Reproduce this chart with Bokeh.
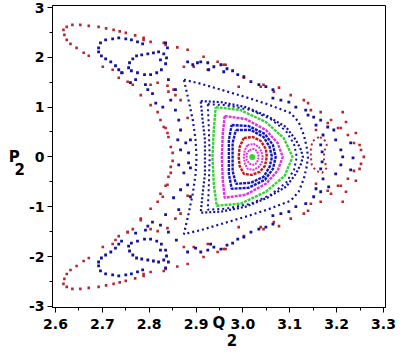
from bokeh.plotting import figure
from bokeh.models import FixedTicker, PrintfTickFormatter, Range1d
from bokeh.embed import file_html
from bokeh.resources import INLINE

# ---------------- data (Q2, P2) ----------------
center_q = [3.020]
center_p = [0.0]

mag1_q = [3.014, 3.023, 3.030, 3.034, 3.030, 3.023, 3.014, 3.008, 3.008, 3.014]
mag1_p = [0.14, 0.16, 0.12, 0.0, -0.12, -0.16, -0.14, -0.06, 0.06, 0.14]

mag2_q = [3.010, 3.023, 3.034, 3.040, 3.042, 3.040, 3.034, 3.023, 3.010, 3.004, 3.002, 3.004, 3.010]
mag2_p = [0.24, 0.26, 0.20, 0.10, 0.0, -0.12, -0.20, -0.26, -0.24, -0.14, 0.0, 0.14, 0.24]

redring_q = [3.002, 3.021, 3.038, 3.049, 3.051, 3.047, 3.036, 3.019, 3.002, 2.993, 2.991, 2.993, 3.002]
redring_p = [0.38, 0.40, 0.32, 0.16, 0.0, -0.18, -0.30, -0.36, -0.34, -0.18, 0.0, 0.20, 0.38]

blue1_q = [2.985, 3.017, 3.044, 3.057, 3.062, 3.057, 3.044, 3.017, 2.985, 2.978, 2.978, 2.978, 2.985]
blue1_p = [0.54, 0.54, 0.40, 0.20, 0.0, -0.20, -0.40, -0.52, -0.54, -0.28, 0.0, 0.28, 0.54]

blue2_q = [2.976, 3.012, 3.047, 3.064, 3.070, 3.064, 3.047, 3.012, 2.976, 2.970, 2.970, 2.970, 2.976]
blue2_p = [0.64, 0.62, 0.46, 0.24, 0.0, -0.24, -0.46, -0.62, -0.64, -0.34, 0.0, 0.34, 0.64]

mag3_q = [2.961, 3.006, 3.049, 3.074, 3.085, 3.074, 3.049, 3.006, 2.961, 2.957, 2.955, 2.957, 2.961]
mag3_p = [0.82, 0.76, 0.54, 0.28, 0.0, -0.28, -0.54, -0.76, -0.82, -0.46, 0.0, 0.46, 0.82]

green_q = [2.942, 2.995, 3.049, 3.087, 3.106, 3.089, 3.049, 2.995, 2.944, 2.938, 2.935, 2.938, 2.942]
green_p = [1.00, 0.94, 0.70, 0.38, 0.0, -0.38, -0.70, -0.94, -0.98, -0.56, 0.0, 0.58, 1.00]

blueA2_q = [2.925, 2.963, 3.017, 3.059, 3.092, 3.109, 3.115, 3.109, 3.092, 3.059, 3.017, 2.963,
            2.925, 2.927, 2.929, 2.927, 2.925]
blueA2_p = [1.06, 1.04, 0.94, 0.76, 0.52, 0.26, 0.0, -0.26, -0.52, -0.76, -0.94, -1.04,
            -1.06, -0.64, 0.0, 0.64, 1.06]

blueA_q = [2.910, 2.953, 3.006, 3.052, 3.092, 3.113, 3.124, 3.128, 3.124, 3.113, 3.092, 3.052,
           3.006, 2.953, 2.910, 2.914, 2.919, 2.919, 2.919, 2.914, 2.910]
blueA_p = [1.12, 1.10, 1.00, 0.82, 0.60, 0.34, 0.14, 0.0, -0.14, -0.34, -0.60, -0.82,
           -1.00, -1.10, -1.12, -0.74, -0.34, 0.0, 0.34, 0.74, 1.12]

blueB_q = [2.874, 2.910, 2.953, 3.006, 3.052, 3.102, 3.119, 3.130, 3.136, 3.139, 3.136, 3.130,
           3.119, 3.102, 3.052, 3.006, 2.953, 2.910, 2.874, 2.884, 2.893, 2.899, 2.901, 2.899,
           2.893, 2.884, 2.874]
blueB_p = [1.55, 1.47, 1.35, 1.20, 1.06, 0.88, 0.70, 0.44, 0.20, 0.0, -0.20, -0.44,
           -0.70, -0.88, -1.06, -1.20, -1.35, -1.47, -1.55, -1.14, -0.74, -0.34, 0.0, 0.34,
           0.74, 1.14, 1.55]

# outer (chaotic) red orbit
red_edge_q = [2.617, 2.624, 2.636, 2.653, 2.671, 2.692, 2.708, 2.724, 2.737, 2.750, 2.770, 2.788,
              2.803, 2.835, 2.860, 2.882, 2.916, 2.959, 3.002, 3.038, 3.077, 3.102, 3.139, 3.166,
              3.188, 3.209, 3.224, 3.237, 3.252, 3.258,
              2.617, 2.624, 2.636, 2.653, 2.671, 2.692, 2.708, 2.724, 2.737, 2.750, 2.770, 2.788,
              2.803, 2.835, 2.860, 2.882, 2.916, 2.959, 3.002, 3.038, 3.077, 3.102, 3.139, 3.166,
              3.188, 3.209, 3.224, 3.237, 3.252]
red_edge_p = [2.55, 2.61, 2.65, 2.65, 2.63, 2.61, 2.58, 2.55, 2.52, 2.49, 2.44, 2.39,
              2.31, 2.25, 2.20, 2.15, 2.01, 1.85, 1.59, 1.41, 1.39, 1.24, 1.08, 0.90,
              0.74, 0.58, 0.44, 0.28, 0.14, 0.0,
              -2.55, -2.61, -2.65, -2.65, -2.63, -2.61, -2.58, -2.55, -2.52, -2.49, -2.44, -2.39,
              -2.31, -2.25, -2.20, -2.15, -2.01, -1.85, -1.59, -1.41, -1.39, -1.24, -1.08, -0.90,
              -0.74, -0.58, -0.44, -0.28, -0.14]

red_inner_q = [2.619, 2.624, 2.632, 2.645, 2.660, 2.671, 2.701, 2.722, 2.735, 2.754, 2.765, 2.782,
               2.803, 2.818, 2.824, 2.835, 2.841, 2.846, 2.850,
               2.619, 2.624, 2.632, 2.645, 2.660, 2.671, 2.701, 2.722, 2.735, 2.754, 2.765, 2.782,
               2.803, 2.818, 2.824, 2.835, 2.841, 2.846, 2.850]
red_inner_p = [2.45, 2.35, 2.27, 2.19, 2.09, 2.03, 1.81, 1.75, 1.59, 1.51, 1.45, 1.24,
               1.04, 0.90, 0.74, 0.58, 0.40, 0.20, 0.08,
               -2.45, -2.35, -2.27, -2.19, -2.09, -2.03, -1.81, -1.75, -1.59, -1.51, -1.45, -1.24,
               -1.04, -0.90, -0.74, -0.58, -0.40, -0.20, -0.08]

red_chaos_q = [2.743, 2.803, 2.818, 2.839, 2.841, 2.856, 2.874, 2.895, 2.925, 2.946, 2.963, 2.788,
               2.831, 2.852, 2.867, 2.882, 2.831, 2.839, 2.991, 3.044, 3.066, 3.130, 3.145,
               3.181, 3.203, 3.156, 3.213, 3.220, 3.241, 3.249,
               2.846, 2.839, 2.829, 2.782, 2.754, 2.728, 2.803, 2.818, 2.839, 2.856, 2.874, 2.895,
               2.925, 2.946, 2.963, 2.788, 2.831, 2.867, 2.882, 2.991, 3.044, 3.066, 3.130, 3.145,
               3.181, 3.203, 3.156, 3.213, 3.220, 3.241, 3.249]
red_chaos_p = [1.69, 1.45, 1.49, 1.43, 1.31, 1.24, 1.81, 1.81, 1.75, 1.91, 1.85, 2.35,
               2.29, 1.35, 1.14, 0.78, 0.60, 0.48, 1.41, 1.45, 1.31, 1.14, 0.94,
               0.68, 0.58, 0.54, 0.90, 0.70, 0.48, 0.24,
               -0.32, -0.56, -0.80, -1.27, -1.51, -1.67, -1.45, -1.49, -1.43, -1.24, -1.81, -1.81,
               -1.75, -1.91, -1.85, -2.35, -2.29, -1.14, -0.78, -1.41, -1.45, -1.31, -1.14, -0.94,
               -0.68, -0.58, -0.54, -0.90, -0.70, -0.48, -0.24]

red_bean_q = [3.162, 3.149, 3.145, 3.145, 3.147, 3.156, 3.169, 3.179, 3.173, 3.173, 3.179, 3.173, 3.162]
red_bean_p = [0.40, 0.32, 0.18, 0.0, -0.16, -0.28, -0.32, -0.22, -0.06, 0.10, 0.24, 0.36, 0.40]

# blue island chain in the two arms
blue_isl_q = [2.692, 2.696, 2.707, 2.722, 2.735, 2.750, 2.762, 2.775, 2.786, 2.692, 2.698, 2.707,
              2.718, 2.728, 2.735, 2.741,
              2.756, 2.758, 2.765, 2.773, 2.784, 2.797, 2.809, 2.820, 2.831, 2.762, 2.775, 2.790,
              2.803, 2.816, 2.826, 2.835, 2.837,
              2.692, 2.696, 2.707, 2.722, 2.735, 2.750, 2.762, 2.775, 2.786, 2.692, 2.698, 2.707,
              2.718, 2.728, 2.735, 2.741,
              2.756, 2.758, 2.765, 2.773, 2.784, 2.797, 2.809, 2.820, 2.831, 2.762, 2.775, 2.790,
              2.803, 2.816, 2.826, 2.835, 2.837]
blue_isl_p = [2.19, 2.29, 2.35, 2.37, 2.39, 2.37, 2.35, 2.31, 2.27, 2.11, 2.03, 1.97,
              1.91, 1.83, 1.75, 1.69,
              1.79, 1.89, 1.97, 2.03, 2.05, 2.07, 2.09, 2.11, 2.07, 1.73, 1.69, 1.65,
              1.65, 1.69, 1.75, 1.87, 1.99,
              -2.19, -2.29, -2.35, -2.37, -2.39, -2.37, -2.35, -2.31, -2.27, -2.11, -2.03, -1.97,
              -1.91, -1.83, -1.75, -1.69,
              -1.79, -1.89, -1.97, -2.03, -2.05, -2.07, -2.09, -2.11, -2.07, -1.73, -1.69, -1.65,
              -1.65, -1.69, -1.75, -1.87, -1.99]

blue_chaos_q = [2.910, 2.925, 2.938, 2.953, 2.966, 2.978, 2.989, 3.002, 3.017, 3.034, 3.049, 3.064,
                3.064, 3.081, 3.098, 3.113, 2.835, 2.839, 2.824, 2.882, 2.893, 2.903, 2.927, 2.959,
                2.760, 2.771, 2.792, 2.797, 2.807, 2.814, 2.829, 2.846, 2.856, 2.863, 2.867, 2.861,
                2.878, 2.888, 2.867, 2.884, 2.856, 2.841,
                2.863, 2.884, 2.874, 2.888, 2.882, 2.852, 2.888, 2.867, 2.863, 2.835, 2.824, 2.807,
                2.792, 2.771, 2.797, 2.841, 2.824, 2.835, 2.841, 2.910, 2.925, 2.938, 2.953, 2.966,
                2.978, 2.989, 3.002, 3.017, 3.034, 3.049, 3.064, 3.064, 3.081, 3.098, 3.113, 2.882,
                2.899, 2.931, 2.858,
                3.166, 3.169, 3.169, 3.166, 3.198, 3.209, 3.213, 3.209, 3.198, 3.230, 3.235, 3.230,
                3.181, 3.194, 3.166, 3.183, 3.166, 3.151, 3.139, 3.151,
                3.134, 3.156, 3.171, 3.134, 3.156, 3.171]
blue_chaos_p = [1.91, 1.89, 1.81, 1.85, 1.77, 1.73, 1.65, 1.61, 1.51, 1.45, 1.41, 1.35,
                1.18, 1.14, 1.10, 1.00, 2.29, 2.19, 1.95, 1.91, 1.85, 1.89, 1.75, 1.71,
                1.49, 1.55, 1.45, 1.35, 1.27, 1.08, 1.00, 1.14, 0.94, 0.74, 0.54, 0.34,
                0.28, 0.34, 0.14, 0.08, 1.35, 1.55,
                -0.16, -0.12, -0.32, -0.22, -0.56, -0.82, -0.80, -0.66, -1.06, -1.16, -1.37, -1.31,
                -1.47, -1.53, -1.39, -1.51, -1.87, -2.23, -2.11, -1.91, -1.87, -1.81, -1.85, -1.77,
                -1.73, -1.65, -1.61, -1.51, -1.45, -1.41, -1.35, -1.18, -1.14, -1.10, -1.00, -1.91,
                -1.83, -1.75, -1.67,
                0.24, 0.10, -0.10, -0.24, 0.34, 0.14, 0.0, -0.16, -0.34, 0.28, -0.02, -0.26,
                0.60, 0.54, 0.74, -0.60, -0.70, 0.80, 0.84, -0.80,
                0.94, 0.64, 0.44, -0.94, -0.64, -0.44]

x_ticks = [2.6, 2.7, 2.8, 2.9, 3.0, 3.1, 3.2, 3.3]
x_minor = [2.65, 2.75, 2.85, 2.95, 3.05, 3.15, 3.25]
y_ticks = [-3, -2, -1, 0, 1, 2, 3]
y_minor = [-2.5, -1.5, -0.5, 0.5, 1.5, 2.5]

# ---------------- colours ----------------
BLUE = "#12129a"
BLUE_IN = "#1616c0"
RED = "#b8262c"
RED_IN = "#d01414"
MAGENTA = "#e030e0"
GREEN = "#38d038"

FONT = "DejaVu Sans"
NB = "\u00a0"

p = figure(width=400, height=352, output_backend="svg", toolbar_location=None,
           x_range=Range1d(2.5936, 3.3043), y_range=Range1d(-3.024, 3.04),
           min_border_left=52, min_border_right=15, min_border_top=5, min_border_bottom=45)
p.grid.visible = False
p.outline_line_color = "black"
p.outline_line_width = 1
p.background_fill_color = "white"
p.border_fill_color = "white"

for ax, tk, mn, fmt in ((p.xaxis[0], x_ticks, x_minor, "%.1f"), (p.yaxis[0], y_ticks, y_minor, "%d")):
    ax.ticker = FixedTicker(ticks=tk, minor_ticks=mn)
    ax.formatter = PrintfTickFormatter(format=fmt)
    ax.major_tick_in = 0
    ax.major_tick_out = 5
    ax.minor_tick_in = 0
    ax.minor_tick_out = 3
    ax.axis_line_color = "black"
    ax.major_tick_line_color = "black"
    ax.minor_tick_line_color = "black"
    ax.major_label_text_font = FONT
    ax.major_label_text_font_style = "bold"
    ax.major_label_text_font_size = "14px"
    ax.major_label_text_color = "black"
    ax.axis_label_text_font = FONT
    ax.axis_label_text_font_style = "bold"
    ax.axis_label_text_font_size = "15px"
    ax.axis_label_text_color = "black"
p.xaxis.major_label_standoff = 6
p.yaxis.major_label_standoff = 3

# axis titles P2 / Q2 with a full-size lowered "2" as in the original
p.yaxis.axis_label = NB + "\nP" + NB + "\n2"
p.yaxis.axis_label_orientation = "horizontal"
p.yaxis.axis_label_standoff = 1
p.yaxis.axis_label_text_line_height = 0.75
p.xaxis.axis_label = "Q\n" + NB * 5 + "2"
p.xaxis.axis_label_standoff = -18
p.xaxis.axis_label_text_line_height = 1.0

# dense regular orbits drawn as dotted curves
dense = [
    (blueB_q, blueB_p, BLUE, "2 3", 2.2),
    (blueA_q, blueA_p, BLUE, "2 2", 2.2),
    (blueA2_q, blueA2_p, BLUE, "2 3", 2.0),
    (green_q, green_p, GREEN, "3 1", 2.4),
    (mag3_q, mag3_p, MAGENTA, "3 1", 2.4),
    (blue2_q, blue2_p, BLUE_IN, "3 1", 2.4),
    (blue1_q, blue1_p, BLUE_IN, "3 1", 2.4),
    (redring_q, redring_p, RED_IN, "3 1", 2.4),
    (mag2_q, mag2_p, MAGENTA, "2 1", 2.0),
    (mag1_q, mag1_p, MAGENTA, "2 1", 2.0),
]
for q, pp, c, d, w in dense:
    p.line(q, pp, line_color=c, line_width=w, line_dash=d)

p.line(red_bean_q, red_bean_p, line_color=RED, line_width=2, line_dash="2 3")

p.scatter(red_edge_q, red_edge_p, marker="square", size=2.6, fill_color=RED, line_color=None)
p.scatter(red_inner_q, red_inner_p, marker="square", size=2.6, fill_color=RED, line_color=None)
p.scatter(red_chaos_q, red_chaos_p, marker="square", size=2.6, fill_color=RED, line_color=None)
p.scatter(blue_isl_q, blue_isl_p, marker="square", size=2.8, fill_color=BLUE, line_color=None)
p.scatter(blue_chaos_q, blue_chaos_p, marker="square", size=2.8, fill_color=BLUE, line_color=None)
p.scatter(center_q, center_p, marker="circle", size=6, fill_color=GREEN, line_color=None)

open("out.html", "w").write(file_html(p, INLINE))
